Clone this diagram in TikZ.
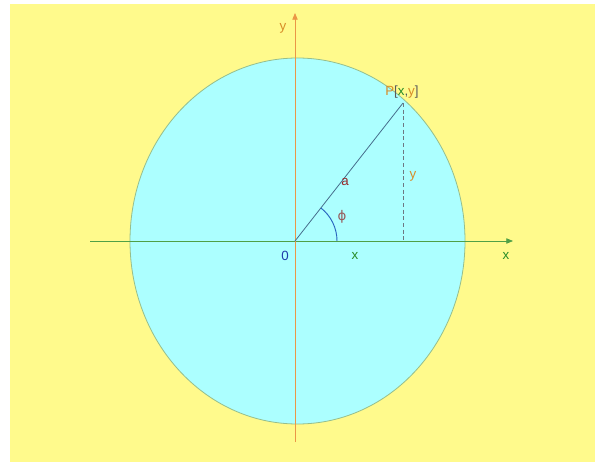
\documentclass[tikz,border=0pt]{standalone}
\usepackage{fontspec}
\setmainfont{Liberation Sans}
\newfontfamily\djfont{DejaVu Sans}
\usetikzlibrary{arrows.meta}
\definecolor{bgyellow}{RGB}{255,250,140}
\definecolor{fillcyan}{RGB}{172,255,255}
\definecolor{rimcol}{RGB}{150,190,140}
\definecolor{xaxcol}{RGB}{80,160,70}
\definecolor{yaxcol}{RGB}{235,150,70}
\definecolor{radcol}{RGB}{70,110,140}
\definecolor{dashcol}{RGB}{110,120,130}
\definecolor{arccol}{RGB}{40,100,190}
\definecolor{labor}{RGB}{215,140,40}
\definecolor{labgr}{RGB}{40,140,40}
\definecolor{labbl}{RGB}{30,60,170}
\definecolor{labred}{RGB}{150,40,40}
\definecolor{labphi}{RGB}{150,90,90}
\definecolor{labgray}{RGB}{90,90,90}
\begin{document}
\begin{tikzpicture}[x=0.75pt,y=-0.75pt,
  lab/.style={inner sep=0pt,font=\fontsize{10}{12}\selectfont},
  axisline/.style={line width=0.6pt,-{Triangle[length=5pt,width=4pt]}}]
\useasboundingbox (0,0) rectangle (602,467);
\fill[white] (0,0) rectangle (602,467);
\fill[bgyellow] (10,4) rectangle (595,462);
\fill[fillcyan,draw=rimcol,line width=0.6pt] (297.5,241) ellipse [x radius=167.5,y radius=183];
\coordinate (O) at (295,241);
\coordinate (P) at (403,103);
\coordinate (Px) at (403,241);
\coordinate (xs) at (90,241);
\coordinate (xe) at (513,241);
\coordinate (ys) at (295,442);
\coordinate (ye) at (295,13);
\draw[axisline,xaxcol] (xs) -- (xe);
\draw[axisline,yaxcol] (ys) -- (ye);
\draw[radcol,line width=0.6pt] (O) -- (P);
\draw[dashcol,line width=0.6pt,dash pattern=on 3pt off 2pt] (P) -- (Px);
\draw[arccol,line width=0.7pt] (337,241) arc[start angle=0,end angle=-52,x radius=42,y radius=42];
\node[lab,text=labgray,anchor=west] (Plab) at (385,92) {\textcolor{labor}{P}[\textcolor{labgr}{x},\textcolor{labor}{y}]};
\node[lab,text=labred] (alab) at (345,182) {a};
\node[lab,text=labor] (ylab) at (413,176) {y};
\node[lab,text=labphi] (philab) at (342,217) {\djfont ϕ};
\node[lab,text=labbl] (Olab) at (285,256) {0};
\node[lab,text=labgr] (xlab) at (355,256) {x};
\node[lab,text=labgr] (xax) at (506,256) {x};
\node[lab,text=labor] (yax) at (283,28) {y};
\end{tikzpicture}
\end{document}
